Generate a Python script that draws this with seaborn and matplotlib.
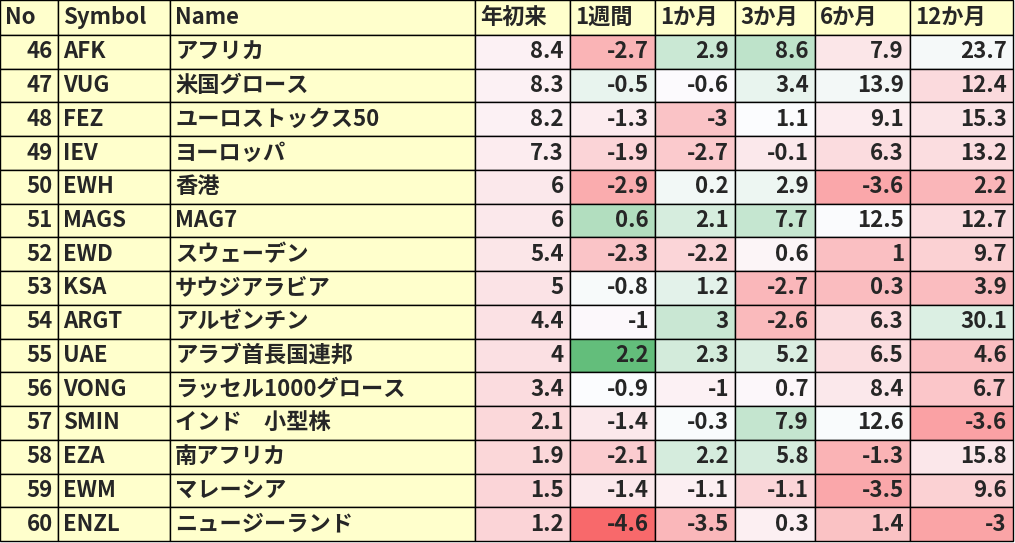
import matplotlib.pyplot as plt
import seaborn as sns
import numpy as np
from matplotlib.colors import TwoSlopeNorm

sns.set_theme(style='white')
plt.rcParams['font.family'] = ['Noto Sans CJK JP', 'DejaVu Sans']

headers = ['No', 'Symbol', 'Name', '年初来', '1週間', '1か月', '3か月', '6か月', '12か月']
nos = list(range(46, 61))
symbols = ['AFK', 'VUG', 'FEZ', 'IEV', 'EWH', 'MAGS', 'EWD', 'KSA', 'ARGT', 'UAE', 'VONG', 'SMIN', 'EZA', 'EWM', 'ENZL']
names = ['アフリカ', '米国グロース', 'ユーロストックス50', 'ヨーロッパ', '香港', 'MAG7', 'スウェーデン',
         'サウジアラビア', 'アルゼンチン', 'アラブ首長国連邦', 'ラッセル1000グロース', 'インド　小型株',
         '南アフリカ', 'マレーシア', 'ニュージーランド']
ytd = [8.4, 8.3, 8.2, 7.3, 6, 6, 5.4, 5, 4.4, 4, 3.4, 2.1, 1.9, 1.5, 1.2]
w1 = [-2.7, -0.5, -1.3, -1.9, -2.9, 0.6, -2.3, -0.8, -1, 2.2, -0.9, -1.4, -2.1, -1.4, -4.6]
m1 = [2.9, -0.6, -3, -2.7, 0.2, 2.1, -2.2, 1.2, 3, 2.3, -1, -0.3, 2.2, -1.1, -3.5]
m3 = [8.6, 3.4, 1.1, -0.1, 2.9, 7.7, 0.6, -2.7, -2.6, 5.2, 0.7, 7.9, 5.8, -1.1, 0.3]
m6 = [7.9, 13.9, 9.1, 6.3, -3.6, 12.5, 1, 0.3, 6.3, 6.5, 8.4, 12.6, -1.3, -3.5, 1.4]
m12 = [23.7, 12.4, 15.3, 13.2, 2.2, 12.7, 9.7, 3.9, 30.1, 4.6, 6.7, -3.6, 15.8, 9.6, -3]
numeric = [ytd, w1, m1, m3, m6, m12]
# approximate (min, mid, max) of the colour scale per column
scales = [(-25, 11, 40), (-4.6, -0.9, 2.2), (-7, -0.5, 10), (-7, 1, 20), (-15, 12, 45), (-20, 22, 60)]

edges = [0, 58, 170, 475, 570, 655, 735, 815, 910, 1013]
W, H = 1015, 543
head_h = 35
row_h = (H - head_h - 2) / len(nos)

cmap = sns.blend_palette(['#F8696B', '#FCFCFF', '#63BE7B'], as_cmap=True)
yellow = '#FFFFCC'

fig = plt.figure(figsize=(W / 100, H / 100), dpi=100)
ax = fig.add_axes([0, 0, 1, 1])
ax.set_xlim(0, W)
ax.set_ylim(H, 0)
ax.axis('off')

fs = 16
# header
for i, h in enumerate(headers):
    ax.add_patch(plt.Rectangle((edges[i], 0), edges[i + 1] - edges[i], head_h, fc=yellow, ec='black', lw=1))
    ax.text(edges[i] + 5, head_h / 2, h, ha='left', va='center', fontsize=fs, fontweight='bold')

for r in range(len(nos)):
    y0 = head_h + r * row_h
    yc = y0 + row_h / 2
    for i in range(3):
        ax.add_patch(plt.Rectangle((edges[i], y0), edges[i + 1] - edges[i], row_h, fc=yellow, ec='black', lw=1))
    ax.text(edges[1] - 5, yc, str(nos[r]), ha='right', va='center', fontsize=fs, fontweight='bold')
    ax.text(edges[1] + 5, yc, symbols[r], ha='left', va='center', fontsize=fs, fontweight='bold')
    ax.text(edges[2] + 5, yc, names[r], ha='left', va='center', fontsize=fs, fontweight='bold')
    for c, col in enumerate(numeric):
        lo, mid, hi = scales[c]
        norm = TwoSlopeNorm(vcenter=mid, vmin=lo, vmax=hi)
        v = col[r]
        x0 = edges[3 + c]
        ax.add_patch(plt.Rectangle((x0, y0), edges[4 + c] - x0, row_h, fc=cmap(norm(v)), ec='black', lw=1))
        ax.text(edges[4 + c] - 6, yc, f'{v:g}', ha='right', va='center', fontsize=fs, fontweight='bold')

fig.savefig('out.png', dpi=100)
